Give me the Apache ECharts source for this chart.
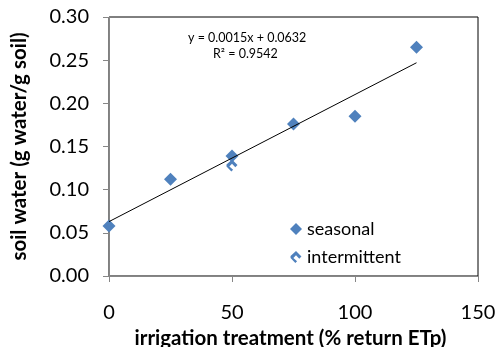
<!DOCTYPE html>
<html>
<head>
<meta charset="utf-8">
<script src="https://cdn.jsdelivr.net/npm/echarts@6/dist/echarts.min.js"></script>
<style>
  html, body { margin: 0; padding: 0; background: #fff; }
  #chart { width: 500px; height: 347px; }
</style>
</head>
<body>
<div id="chart"></div>
<script>
// values
const seasonalX = [0, 25, 50, 75, 100, 125];
const seasonalY = [0.058, 0.112, 0.139, 0.176, 0.185, 0.265];
const intermittentX = [50];
const intermittentY = [0.128];
const trendX = [0, 125];
const trendY = [0.063, 0.247];
const equationLines = ['y = 0.0015x + 0.0632', 'R² = 0.9542'];

const blue = '#4F81BD';
const font = 'Lato, "Open Sans", sans-serif';
const hookPath = 'path://M5,0 L10,5 L8,7 L5,4 L2.6,6.4 L6,9.4 L4.4,11 L0,6.4 L0,4.6 Z';

const chart = echarts.init(document.getElementById('chart'));

chart.setOption({
  animation: false,
  grid: {
    left: 109,
    right: 22,
    top: 17,
    bottom: 71,
    outerBoundsMode: 'none',
    containLabel: false,
    show: true,
    borderColor: '#000',
    borderWidth: 1,
  },
  xAxis: {
    type: 'value',
    min: 0,
    max: 150,
    interval: 50,
    name: 'irrigation treatment (% return ETp)',
    nameLocation: 'middle',
    nameGap: 49,
    nameTextStyle: { fontFamily: font, fontWeight: 'bold', fontSize: 20.5, color: '#000', padding: [0, 6, 0, 0] },
    axisLine: { lineStyle: { color: '#868686' } },
    axisTick: { length: 6, lineStyle: { color: '#868686' } },
    axisLabel: { fontFamily: font, fontSize: 20, color: '#000', margin: 27 },
    splitLine: { show: false },
  },
  yAxis: {
    type: 'value',
    min: 0,
    max: 0.3,
    interval: 0.05,
    name: 'soil water (g water/g soil)',
    nameLocation: 'middle',
    nameGap: 79,
    nameTextStyle: { fontFamily: font, fontWeight: 'bold', fontSize: 20.5, color: '#000' },
    axisLine: { show: true, lineStyle: { color: '#868686' } },
    axisTick: { show: true, length: 6, lineStyle: { color: '#868686' } },
    axisLabel: {
      fontFamily: font,
      fontSize: 20,
      color: '#000',
      margin: 20,
      formatter: (v) => v.toFixed(2),
    },
    splitLine: { show: false },
  },
  legend: {
    left: 285,
    top: 215,
    orient: 'vertical',
    itemGap: 10,
    itemWidth: 12,
    itemHeight: 12,
    textStyle: { fontFamily: font, fontSize: 18, color: '#000' },
    data: ['seasonal', 'intermittent'],
  },
  graphic: equationLines.map((line, i) => ({
    type: 'text',
    left: i === 0 ? 188 : 213,
    top: 31 + i * 16,
    style: { text: line, font: '12.5px ' + font, fill: '#000' },
  })),
  series: [
    {
      name: 'trend',
      type: 'line',
      data: trendX.map((x, i) => [x, trendY[i]]),
      symbol: 'none',
      lineStyle: { color: '#000', width: 1 },
      z: 3,
    },
    {
      name: 'seasonal',
      type: 'scatter',
      data: seasonalX.map((x, i) => [x, seasonalY[i]]),
      symbol: 'diamond',
      symbolSize: 13,
      itemStyle: { color: blue, opacity: 1 },
      z: 2,
    },
    {
      name: 'intermittent',
      type: 'scatter',
      data: intermittentX.map((x, i) => [x, intermittentY[i]]),
      symbol: hookPath,
      symbolSize: [11, 12],
      itemStyle: { color: blue, opacity: 1 },
      z: 2,
    },
  ],
});
</script>
</body>
</html>
